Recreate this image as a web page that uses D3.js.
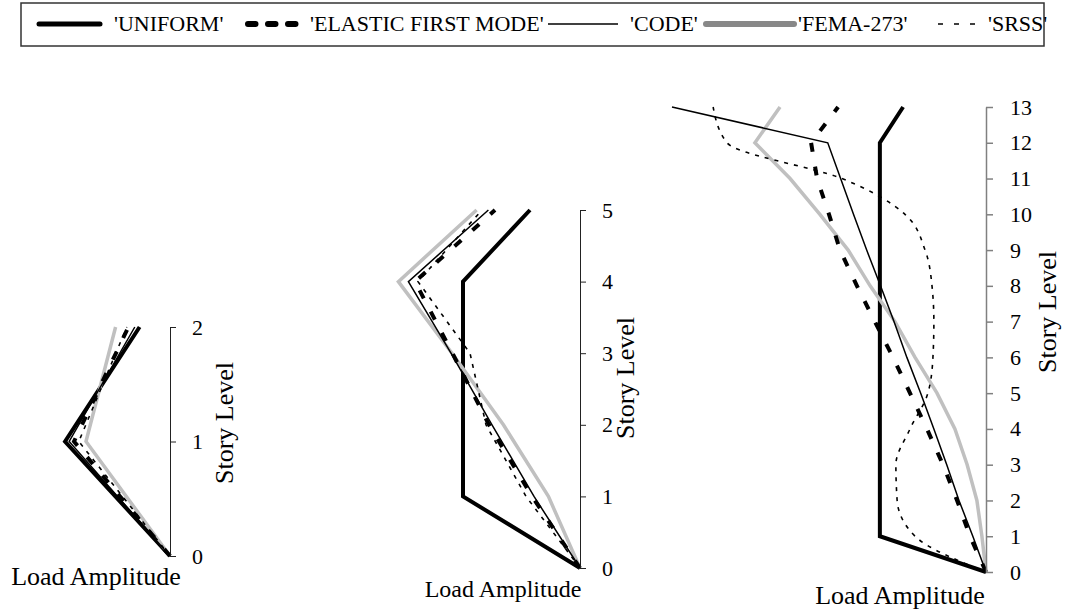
<!DOCTYPE html>
<html>
<head>
<meta charset="utf-8">
<script src="https://cdn.jsdelivr.net/npm/d3@7"></script>
<style>
  html, body { margin: 0; padding: 0; background: #ffffff; }
  svg { display: block; }
  text { font-family: "Liberation Serif", Tinos, "Times New Roman", Times, "DejaVu Serif", serif; fill: #000; }
</style>
</head>
<body>
<svg id="chart" width="1070" height="612"></svg>
<script>
// Lateral load patterns (load amplitude, normalised) per story level
const seriesNames = ["'UNIFORM'", "'ELASTIC FIRST MODE'", "'CODE'", "'FEMA-273'", "'SRSS'"];

// 2-story frame
const levels2 = [0, 1, 2];
const uniform2 = [0, 0.656, 0.19];
const elastic2 = [0, 0.60, 0.26];
const code2    = [0, 0.63, 0.22];
const fema2    = [0, 0.525, 0.34];
const srss2    = [0, 0.57, 0.27];

// 5-story frame
const levels5 = [0, 1, 2, 3, 4, 5];
const uniform5 = [0, 0.585, 0.585, 0.585, 0.585, 0.25];
const elastic5 = [0, 0.24, 0.455, 0.638, 0.825, 0.425];
const code5    = [0, 0.23, 0.44, 0.645, 0.858, 0.458];
const fema5    = [0, 0.158, 0.383, 0.64, 0.908, 0.517];
const srss5    = [0, 0.27, 0.47, 0.55, 0.81, 0.49];

// 13-story frame
const levels13 = [0, 1, 2, 3, 4, 5, 6, 7, 8, 9, 10, 11, 12, 13];
const uniform13 = [0, 0.338, 0.338, 0.338, 0.338, 0.338, 0.338, 0.338, 0.338, 0.338, 0.338, 0.338, 0.338, 0.264];
const elastic13 = [0, 0.051, 0.092, 0.137, 0.188, 0.242, 0.296, 0.354, 0.411, 0.465, 0.50, 0.538, 0.557, 0.471];
const code13    = [0, 0.042, 0.086, 0.125, 0.166, 0.208, 0.252, 0.293, 0.336, 0.380, 0.422, 0.463, 0.504, 1.0];
const fema13    = [0, 0.013, 0.029, 0.060, 0.099, 0.156, 0.226, 0.290, 0.369, 0.439, 0.529, 0.624, 0.736, 0.656];
const srss13    = [0, 0.226, 0.283, 0.287, 0.242, 0.185, 0.169, 0.166, 0.172, 0.194, 0.258, 0.459, 0.825, 0.869];

const axisTitleY = "Story Level";
const axisTitleX = "Load Amplitude";

const serif = "'Liberation Serif', Tinos, 'Times New Roman', Times, 'DejaVu Serif', serif";

// Line styles for each load pattern
const styles = {
  uniform: { stroke: "#000", width: 4, dash: null },
  fema:    { stroke: "#c0c0c0", width: 3.5, dash: null },
  code:    { stroke: "#000", width: 1.5, dash: null },
  elastic: { stroke: "#000", width: 4, dash: "9,15" },
  srss:    { stroke: "#000", width: 1.6, dash: "4,6" }
};

// Panel geometry
const panels = [
  { levels: levels2, data: { uniform: uniform2, fema: fema2, code: code2, elastic: elastic2, srss: srss2 },
    axisX: 170, width: 160, yBottom: 556, yTop: 327, axisColor: "#222", axisWidth: 1,
    tickSize: 6, tickPad: 16, titleYX: 233, titleYY: 423, titleXX: 96, titleXY: 585, titleXSize: 26, smoothSrss: false },
  { levels: levels5, data: { uniform: uniform5, fema: fema5, code: code5, elastic: elastic5, srss: srss5 },
    axisX: 580, width: 200, yBottom: 568, yTop: 210, axisColor: "#222", axisWidth: 1,
    tickSize: 6, tickPad: 16, titleYX: 634, titleYY: 378, titleXX: 503, titleXY: 597, titleXSize: 24, smoothSrss: false },
  { levels: levels13, data: { uniform: uniform13, fema: fema13, code: code13, elastic: elastic13, srss: srss13 },
    axisX: 986, width: 314, yBottom: 572, yTop: 107, axisColor: "#808080", axisWidth: 1.5,
    tickSize: 7, tickPad: 17, titleYX: 1056, titleYY: 312, titleXX: 900, titleXY: 604, titleXSize: 26, smoothSrss: true }
];

const svg = d3.select("#chart");
const drawOrder = ["uniform", "fema", "code", "elastic", "srss"];

panels.forEach(p => {
  const maxLevel = p.levels[p.levels.length - 1];
  const x = d3.scaleLinear().domain([0, 1]).range([p.axisX, p.axisX - p.width]);
  const y = d3.scaleLinear().domain([0, maxLevel]).range([p.yBottom, p.yTop]);

  const g = svg.append("g");

  drawOrder.forEach(key => {
    const st = styles[key];
    const vals = p.data[key];
    const line = d3.line()
      .x((d, i) => x(vals[i]))
      .y(d => y(d))
      .curve(key === "srss" && p.smoothSrss ? d3.curveMonotoneY : d3.curveLinear);
    g.append("path")
      .attr("d", line(p.levels))
      .attr("fill", "none")
      .attr("stroke", st.stroke)
      .attr("stroke-width", st.width)
      .attr("stroke-linejoin", "miter")
      .attr("stroke-dasharray", st.dash);
  });

  const axis = d3.axisRight(y)
    .tickValues(p.levels)
    .tickFormat(d3.format("d"))
    .tickSizeInner(p.tickSize)
    .tickSizeOuter(0)
    .tickPadding(p.tickPad);

  const ag = g.append("g")
    .attr("transform", `translate(${p.axisX},0)`)
    .call(axis)
    .attr("font-family", serif)
    .attr("font-size", 22);
  ag.select(".domain").attr("stroke", p.axisColor).attr("stroke-width", p.axisWidth);
  ag.selectAll(".tick line").attr("stroke", p.axisColor).attr("stroke-width", p.axisWidth);
  ag.selectAll(".tick text").attr("fill", "#000");

  g.append("text")
    .attr("transform", `translate(${p.titleYX},${p.titleYY}) rotate(-90)`)
    .attr("text-anchor", "middle")
    .attr("font-family", serif)
    .attr("font-size", 26)
    .text(axisTitleY);

  g.append("text")
    .attr("x", p.titleXX)
    .attr("y", p.titleXY)
    .attr("text-anchor", "middle")
    .attr("font-family", serif)
    .attr("font-size", p.titleXSize)
    .text(axisTitleX);
});

// Legend
const legend = svg.append("g");
legend.append("rect")
  .attr("x", 21).attr("y", 3).attr("width", 1023).attr("height", 43)
  .attr("fill", "#fff").attr("stroke", "#333").attr("stroke-width", 1.5);

const legendItems = [
  { key: "uniform", x1: 39, x2: 100, tx: 114, stroke: "#000", width: 5, dash: null, cap: "round" },
  { key: "elastic", x1: 248, x2: 296, tx: 310, stroke: "#000", width: 6, dash: "7.5,12.5", cap: "round" },
  { key: "code",    x1: 548, x2: 618, tx: 630, stroke: "#000", width: 1.5, dash: null, cap: "butt" },
  { key: "fema",    x1: 706, x2: 794, tx: 798, stroke: "#888", width: 6, dash: null, cap: "round" },
  { key: "srss",    x1: 938, x2: 975, tx: 988, stroke: "#000", width: 1.5, dash: "5,11", cap: "butt" }
];

legendItems.forEach((it, i) => {
  legend.append("line")
    .attr("x1", it.x1).attr("x2", it.x2).attr("y1", 24).attr("y2", 24)
    .attr("stroke", it.stroke).attr("stroke-width", it.width)
    .attr("stroke-linecap", it.cap)
    .attr("stroke-dasharray", it.dash);
  legend.append("text")
    .attr("x", it.tx).attr("y", 31)
    .attr("font-family", serif)
    .attr("font-size", 22)
    .text(seriesNames[i]);
});
</script>
</body>
</html>
